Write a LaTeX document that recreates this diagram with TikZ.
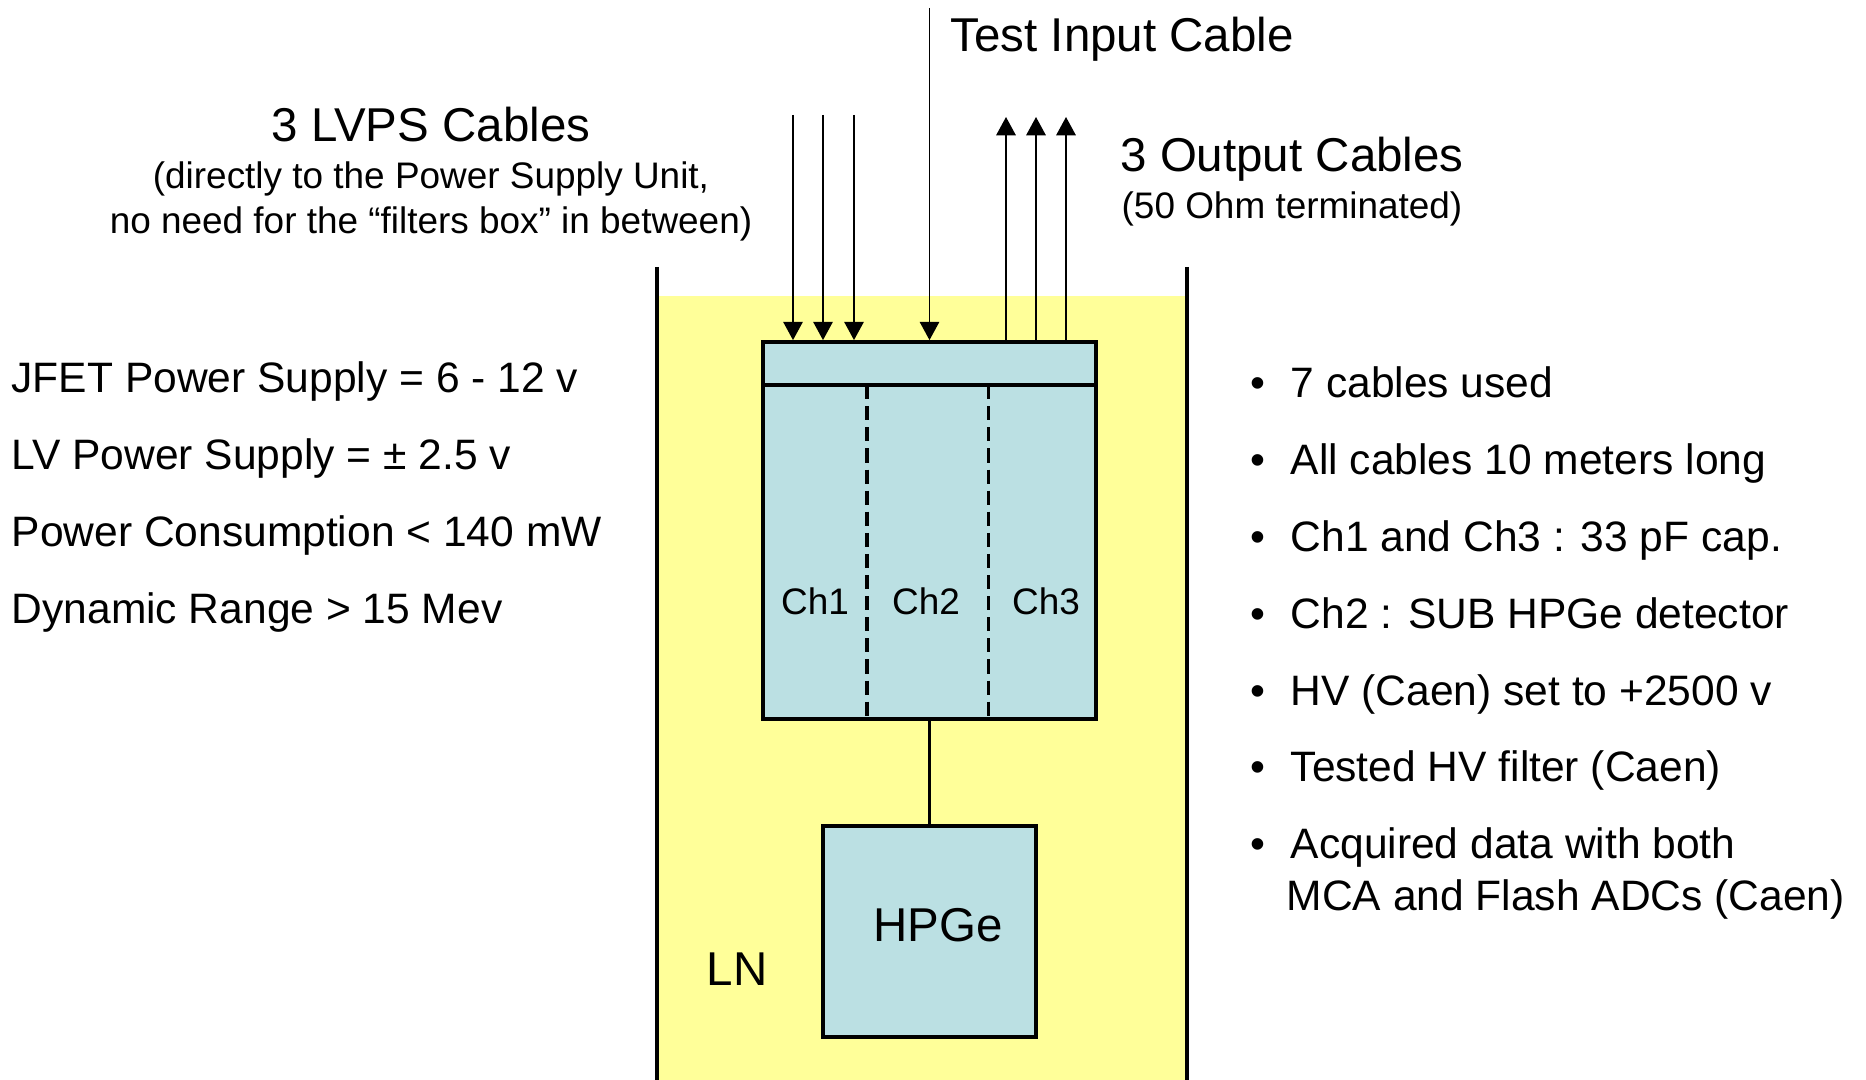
\documentclass[tikz,border=0pt]{standalone}
\usepackage{fontspec}
\setmainfont{Liberation Sans}
\usetikzlibrary{arrows.meta}
\definecolor{lnyellow}{RGB}{255,255,153}
\definecolor{boxblue}{RGB}{187,224,227}

\begin{document}
\begin{tikzpicture}[x=0.01cm,y=-0.01cm,
    box/.style={draw,fill=boxblue,line width=1pt,inner sep=0pt},
    cable/.style={line width=0.55pt,-{Triangle[length=5.2pt,width=5.5pt]}},
    wall/.style={line width=0.95pt},
    big/.style={font=\fontsize{13.5}{16}\selectfont,inner sep=0pt},
    small/.style={font=\fontsize{10.5}{13}\selectfont,inner sep=0pt},
    item/.style={font=\fontsize{12.1}{14.5}\selectfont,inner sep=0pt},
    chlbl/.style={font=\fontsize{10.5}{12}\selectfont,inner sep=0pt,anchor=base}]
  \useasboundingbox (0,0) rectangle (1866,1080);

  % dewar with the liquid nitrogen
  \fill[lnyellow] (657,296) rectangle (1187,1080);
  \draw[wall] (657,267) -- (657,1080);
  \draw[wall] (1187,267) -- (1187,1080);
  \node[big,anchor=base west] (LN) at (706,986) {LN};

  % front end and detector
  \node[box,minimum width=3.33cm,minimum height=3.77cm] (fe) at (929.5,530.5) {};
  \node[box,minimum width=2.13cm,minimum height=2.11cm] (hpge) at (929.5,931.5) {};
  \node[big,anchor=base] (hpgelbl) at (938,942) {HPGe};
  \draw[line width=1pt] ([yshift=-0.45cm]fe.north west) -- ([yshift=-0.45cm]fe.north east);
  \foreach \dx in {1.06,2.27}
    \draw[line width=1pt,dash pattern=on 4pt off 2pt]
      ([xshift=\dx cm,yshift=-0.45cm]fe.north west) -- ([xshift=\dx cm]fe.south west);
  \node[chlbl] (ch1) at (815,615) {Ch1};
  \node[chlbl] (ch2) at (926,615) {Ch2};
  \node[chlbl] (ch3) at (1046,615) {Ch3};
  \draw[line width=1pt] (fe.south) -- (hpge.north);

  % cables
  \foreach \x [count=\i] in {793,823,854}{
    \coordinate (lv\i) at (\x,115);
    \draw[cable] (lv\i) -- (lv\i |- fe.north);
  }
  \foreach \x [count=\i] in {1006,1036,1066}{
    \coordinate (out\i) at (\x,117);
    \draw[cable] (out\i |- fe.north) -- (out\i);
  }
  \coordinate (tin) at (929.5,8);
  \draw[cable] (tin) -- (fe.north);

  % cable labels
  \node[big,anchor=base west] (tinlbl) at (950,52) {Test Input Cable};
  \node[big,anchor=base] (lvlbl) at (431,142) {3 LVPS Cables};
  \node[small,anchor=base] (lvnote1) at (431,189) {(directly to the Power Supply Unit,};
  \node[small,anchor=base] (lvnote2) at (431,234) {no need for the “filters box” in between)};
  \node[big,anchor=base] (outlbl) at (1292,172) {3 Output Cables};
  \node[small,anchor=base] (outnote) at (1292,219) {(50 Ohm terminated)};

  % specs on the left
  \foreach \t [count=\i] in {{JFET Power Supply = 6 - 12 v},{LV Power Supply = ± 2.5 v},
      {Power Consumption < 140 mW},{Dynamic Range > 15 Mev}}
    \node[item,anchor=base west] (spec\i) at (11,{393+77*(\i-1)}) {\t};

  % notes on the right
  \foreach \t [count=\i] in {{7 cables used},{All cables 10 meters long},
      {Ch1 and Ch3 : 33 pF cap.},{Ch2 : SUB HPGe detector},{HV (Caen) set to +2500 v},
      {Tested HV filter (Caen)},{Acquired data with both}}{
    \node[item,anchor=base] (dot\i) at (1258,{398+76.8*(\i-1)}) {•};
    \node[item,anchor=base west] (note\i) at (1290,{398+76.8*(\i-1)}) {\t};
  }
  \node[item,anchor=base west] (note8) at (1286,911) {MCA and Flash ADCs (Caen)};
\end{tikzpicture}
\end{document}
